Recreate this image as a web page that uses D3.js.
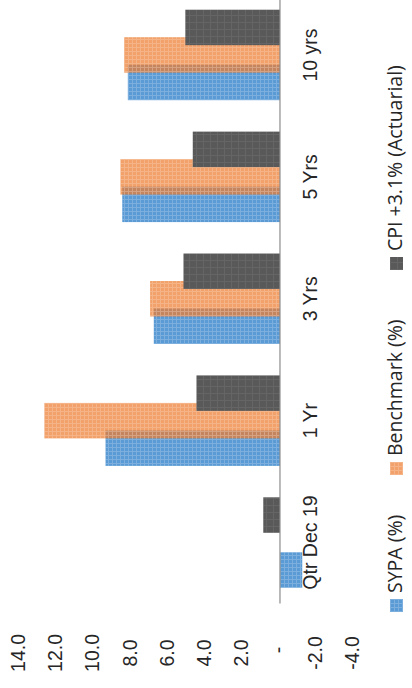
<!DOCTYPE html>
<html>
<head>
<meta charset="utf-8">
<script src="https://cdn.jsdelivr.net/npm/d3@7"></script>
<style>
  html, body { margin: 0; padding: 0; background: #fff; }
  svg { display: block; font-family: "Open Sans", "Noto Sans", sans-serif; }
</style>
</head>
<body>
<script>
// Fund returns by period, in percent
const categories = ["Qtr Dec 19", "1 Yr", "3 Yrs", "5 Yrs", "10 yrs"];
const seriesNames = ["SYPA (%)", "Benchmark (%)", "CPI +3.1% (Actuarial)"];
const sypa = [-1.2, 9.4, 6.8, 8.5, 8.2];
const benchmark = [0.0, 12.7, 7.0, 8.6, 8.4];
const cpi = [0.9, 4.5, 5.2, 4.7, 5.1];
const valueTicks = [-4, -2, 0, 2, 4, 6, 8, 10, 12, 14];

const W = 412, H = 688;
const seriesValues = [sypa, benchmark, cpi];
const seriesColors = ["#5b9bd5", "#ed7d31", "#595959"];
const seriesOpacity = [1, 0.72, 1];
const seriesGrid = ["gridLight", "gridLight", "gridFaint"];

const svg = d3.select("body").append("svg")
  .attr("width", W).attr("height", H);

// texture patterns for the bar fills
const defs = svg.append("defs");
function gridPattern(id, opacity, period) {
  const p = defs.append("pattern").attr("id", id)
    .attr("patternUnits", "userSpaceOnUse")
    .attr("width", period).attr("height", period);
  p.append("rect").attr("x", 0).attr("y", 0).attr("width", period).attr("height", 1)
    .attr("fill", "#fff").attr("fill-opacity", opacity);
  p.append("rect").attr("x", 0).attr("y", 1).attr("width", 1).attr("height", period - 1)
    .attr("fill", "#fff").attr("fill-opacity", opacity);
}
gridPattern("gridLight", 0.2, 4);
gridPattern("gridFaint", 0.07, 7);

// the whole column chart sits in a frame turned a quarter turn counter-clockwise
const frame = svg.append("g").attr("transform", `translate(0,${H}) rotate(-90)`);

const y = d3.scaleLinear().domain([-4, 14]).range([354.2, 20.2]);
const x = d3.scaleBand().domain(categories).range([84.5, 694]).paddingInner(0).paddingOuter(0);
const barW = x.bandwidth() * 0.291;
const step = x.bandwidth() * 0.2256;
const sub = d3.scalePoint().domain(seriesNames).range([-step, step]);

seriesNames.forEach((name, i) => {
  const rows = categories.map((c, j) => ({ c, v: seriesValues[i][j] }));
  const g = frame.append("g").attr("class", "series");
  const rx = d => x(d.c) + x.bandwidth() / 2 + sub(name) - barW / 2;
  const ry = d => Math.min(y(d.v), y(0));
  const rh = d => Math.abs(y(d.v) - y(0));
  g.selectAll("rect.base").data(rows).join("rect").attr("class", "base")
    .attr("x", rx).attr("y", ry).attr("width", barW).attr("height", rh)
    .attr("fill", seriesColors[i]).attr("fill-opacity", seriesOpacity[i]);
  g.selectAll("rect.tex").data(rows).join("rect").attr("class", "tex")
    .attr("x", rx).attr("y", ry).attr("width", barW).attr("height", rh)
    .attr("fill", `url(#${seriesGrid[i]})`);
});

// category axis line at zero
frame.append("line")
  .attr("x1", x.range()[0]).attr("x2", x.range()[1])
  .attr("y1", y(0)).attr("y2", y(0))
  .attr("stroke", "#8c8c8c").attr("stroke-width", 1.2);

// category labels
const xAxis = frame.append("g")
  .call(d3.axisBottom(x).tickSize(0));
xAxis.select(".domain").remove();
xAxis.selectAll("text")
  .attr("y", 317).attr("dy", null)
  .attr("fill", "#262626")
  .style("font-size", "19.5px");

// value labels
const fmt = d => d === 0 ? "-" : d3.format(".1f")(d).replace("\u2212", "-");
const yAxis = frame.append("g").attr("transform", "translate(35,0)")
  .call(d3.axisLeft(y).tickValues(valueTicks).tickSize(0).tickFormat(fmt));
yAxis.select(".domain").remove();
yAxis.selectAll("text")
  .attr("text-anchor", "middle").attr("x", d => d === 0 ? 3 : 0)
  .attr("y", 4.5).attr("dy", null)
  .attr("fill", "#262626")
  .style("font-size", "19.5px");

// legend
const legendX = [76, 213, 418];
const legend = frame.append("g").attr("class", "legend");
seriesNames.forEach((name, i) => {
  const item = legend.append("g").attr("transform", `translate(${legendX[i]},390)`);
  item.append("rect").attr("width", 13).attr("height", 13)
    .attr("fill", seriesColors[i]).attr("fill-opacity", seriesOpacity[i]);
  item.append("rect").attr("width", 13).attr("height", 13)
    .attr("fill", `url(#${seriesGrid[i]})`);
  item.append("text").attr("x", 19).attr("y", 12)
    .attr("fill", "#262626")
    .style("font-size", "19.5px")
    .text(name);
});
</script>
</body>
</html>
